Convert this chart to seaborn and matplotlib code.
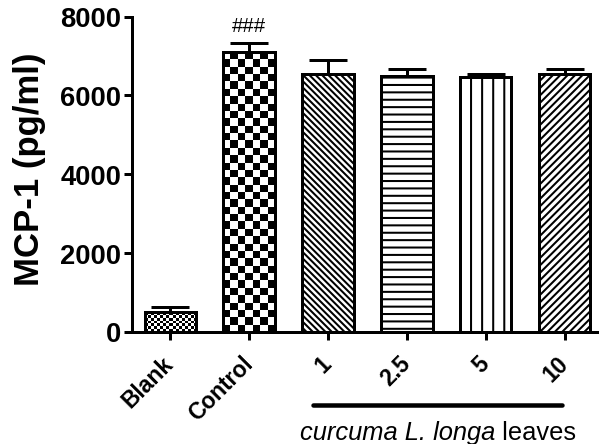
import numpy as np
import matplotlib
matplotlib.use("Agg")
import matplotlib.pyplot as plt
import seaborn as sns
from matplotlib.offsetbox import TextArea, HPacker, AnnotationBbox

# Mean MCP-1 concentration per treatment group, with SEM (upper bars only)
groups = ["Blank", "Control", "1", "2.5", "5", "10"]
mcp1_mean = [500, 7100, 6530, 6500, 6460, 6550]
mcp1_sem = [130, 230, 360, 180, 90, 130]
sig_marks = ["", "###", "", "", "", ""]
y_ticks = [0, 2000, 4000, 6000, 8000]
y_label = "MCP-1 (pg/ml)"
extract_italic = "curcuma L. longa"
extract_plain = " leaves"

DPI = 133


def px(v):
    """Convert a length in pixels to points for this figure's dpi."""
    return v * 72.0 / DPI


sns.set_style("ticks")
plt.rcParams["font.family"] = ["Liberation Sans", "DejaVu Sans"]
plt.rcParams.update({
    "hatch.linewidth": 1.1,
    "hatch.color": "black",
    "text.color": "black",
    "axes.labelcolor": "black",
    "axes.edgecolor": "black",
    "xtick.color": "black",
    "ytick.color": "black",
})

fig = plt.figure(figsize=(599.5 / DPI, 444.5 / DPI), dpi=DPI)
ax = fig.add_axes([132 / 599, 1 - 332 / 444, 1 - 132 / 599, (332 - 17) / 444])

sns.barplot(x=groups, y=mcp1_mean, order=groups, color="white",
            saturation=1, edgecolor="black", linewidth=px(3), width=0.65,
            errorbar=None, ax=ax, zorder=2)

ax.set_xlim(-0.482, 5.44)
ax.set_ylim(y_ticks[0], y_ticks[-1])

# Fill styles per bar: checkerboards (cell size in px) or hatches
checker_cells = {0: 3.0, 1: 7.3}
hatches = {2: "\\" * 7, 3: "---", 4: "||", 5: "/" * 6}

for i, patch in enumerate(ax.patches):
    if i in hatches:
        patch.set_hatch(hatches[i])
    elif i in checker_cells:
        x0, w, h = patch.get_x(), patch.get_width(), patch.get_height()
        (ax_px, ay_px) = ax.transData.transform((x0, 0))
        (bx_px, by_px) = ax.transData.transform((x0 + w, h))
        c = checker_cells[i]
        nx = max(1, int(round(abs(bx_px - ax_px) / c)))
        ny = max(1, int(round(abs(by_px - ay_px) / c)))
        board = np.add.outer(np.arange(ny), np.arange(nx)) % 2
        im = ax.imshow(board, cmap="gray", extent=[x0, x0 + w, 0, h],
                       origin="lower", interpolation="nearest", aspect="auto",
                       zorder=patch.get_zorder() - 0.5, vmin=0, vmax=1)
        im.set_clip_path(patch)
        patch.set_facecolor("none")

ax.set_xlim(-0.482, 5.44)
ax.set_ylim(y_ticks[0], y_ticks[-1])

# Upper-only error bars
xpos = np.arange(len(groups))
ax.errorbar(xpos, mcp1_mean, yerr=[np.zeros(len(groups)), mcp1_sem],
            fmt="none", ecolor="black", elinewidth=px(3), capsize=px(19),
            capthick=px(3), zorder=3)

for i, mark in enumerate(sig_marks):
    if mark:
        ax.annotate(mark, (xpos[i], mcp1_mean[i] + mcp1_sem[i]),
                    xytext=(0, px(17)), textcoords="offset points",
                    ha="center", va="center", fontsize=11)

# Axes styling
sns.despine(ax=ax)
for side in ("left", "bottom"):
    ax.spines[side].set_linewidth(px(3))
    ax.spines[side].set_color("black")
ax.set_yticks(y_ticks)
ax.set_yticklabels([str(t) for t in y_ticks], fontweight="bold", fontsize=14.8)
ax.tick_params(axis="y", length=px(8), width=px(3), pad=px(3), colors="black")
ax.set_xticks(xpos)
ax.set_xticklabels(groups, rotation=45, ha="right", va="center",
                   rotation_mode="anchor", fontweight="bold", fontsize=12.3)
ax.tick_params(axis="x", length=px(8), width=px(3), pad=px(20), colors="black")
ax.set_xlabel("")
ax.set_ylabel("")

fig.text(29 / 599, 1 - 169 / 444, y_label, rotation=90, ha="center",
         va="center", fontweight="bold", fontsize=18.8, color="black")

# Bracket line and caption for the extract doses
ax.plot([2 - 0.19, 5 - 0.03], [-0.232, -0.232], color="black",
        linewidth=px(4.5), solid_capstyle="round",
        transform=ax.get_xaxis_transform(), clip_on=False)

caption = HPacker(children=[
    TextArea(extract_italic, textprops=dict(fontsize=13.8, fontstyle="italic",
                                            color="black")),
    TextArea(extract_plain, textprops=dict(fontsize=13.8, color="black")),
], align="baseline", pad=0, sep=0)
ab = AnnotationBbox(caption, (3.39, -0.318), xycoords=("data", "axes fraction"),
                    box_alignment=(0.5, 0.5), frameon=False,
                    annotation_clip=False)
ax.add_artist(ab)

fig.savefig("out.png", dpi=DPI)
